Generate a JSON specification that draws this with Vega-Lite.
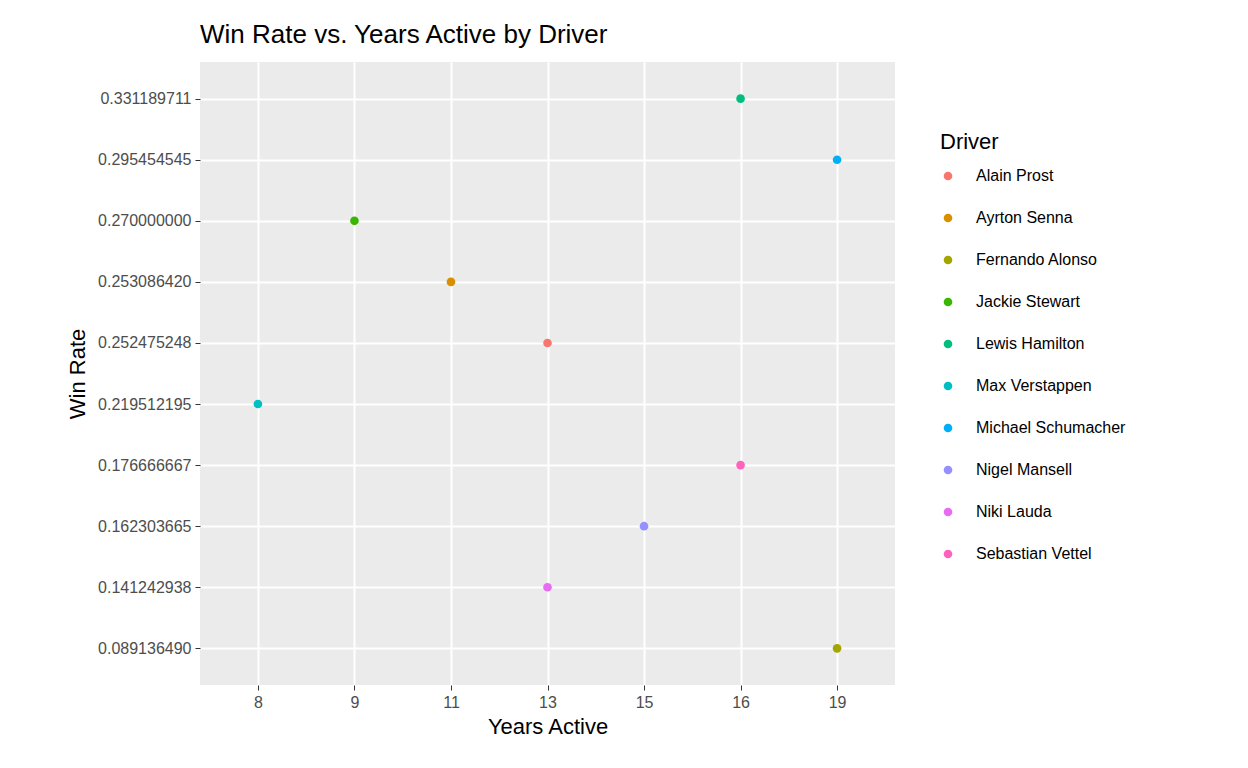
{
"$schema":"https://vega.github.io/schema/vega-lite/v6.json",
"autosize":{"type":"none"},
"padding":{"left":200,"top":62,"right":353,"bottom":83},
"width":695,"height":623,
"background":"white",
"title":{"text":"Win Rate vs. Years Active by Driver","anchor":"start","frame":"group","fontSize":26,"font":"Liberation Sans","fontWeight":"normal","color":"black","offset":14},
"config":{"view":{"fill":"#EBEBEB","stroke":null},"font":"Liberation Sans"},
"data":{"values":[
{"Driver":"Alain Prost","Years":13,"WinRate":"0.252475248"},
{"Driver":"Ayrton Senna","Years":11,"WinRate":"0.253086420"},
{"Driver":"Fernando Alonso","Years":19,"WinRate":"0.089136490"},
{"Driver":"Jackie Stewart","Years":9,"WinRate":"0.270000000"},
{"Driver":"Lewis Hamilton","Years":16,"WinRate":"0.331189711"},
{"Driver":"Max Verstappen","Years":8,"WinRate":"0.219512195"},
{"Driver":"Michael Schumacher","Years":19,"WinRate":"0.295454545"},
{"Driver":"Nigel Mansell","Years":15,"WinRate":"0.162303665"},
{"Driver":"Niki Lauda","Years":13,"WinRate":"0.141242938"},
{"Driver":"Sebastian Vettel","Years":16,"WinRate":"0.176666667"}
]},
"mark":{"type":"point","filled":true,"size":75,"opacity":1},
"encoding":{
"x":{"field":"Years","type":"ordinal","title":"Years Active","scale":{"type":"point","padding":0.6},
"axis":{"labelAngle":0,"labelFontSize":16,"labelColor":"#4D4D4D","titleFontSize":22,"titleFontWeight":"normal","titleColor":"black","grid":true,"gridColor":"white","gridWidth":2,"domain":false,"tickColor":"#333333","tickSize":5,"labelPadding":4,"titlePadding":6}},
"y":{"field":"WinRate","type":"ordinal","sort":"descending","title":"Win Rate","scale":{"type":"point","padding":0.6},
"axis":{"labelFontSize":16,"labelColor":"#4D4D4D","titleFontSize":22,"titleFontWeight":"normal","titleColor":"black","grid":true,"gridColor":"white","gridWidth":2,"domain":false,"tickColor":"#333333","tickSize":5,"labelPadding":4,"titlePadding":8}},
"color":{"field":"Driver","type":"nominal","scale":{"range":["#F8766D","#D89000","#A3A500","#39B600","#00BF7D","#00BFC4","#00B0F6","#9590FF","#E76BF3","#FF62BC"]},
"legend":{"orient":"none","legendX":740,"legendY":70,"titleFontSize":22,"titleFontWeight":"normal","titleColor":"black","labelFontSize":16,"labelColor":"black","symbolType":"circle","symbolSize":75,"rowPadding":26,"labelOffset":20,"titlePadding":14}}
}
}
